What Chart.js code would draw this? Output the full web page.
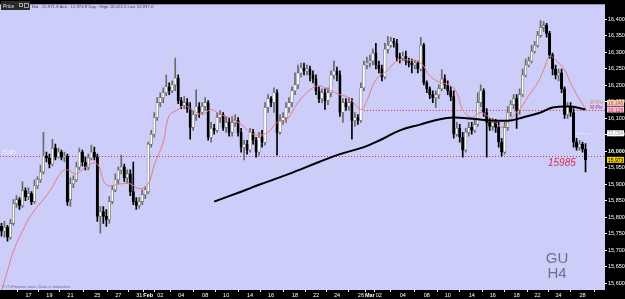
<!DOCTYPE html>
<html>
<head>
<meta charset="utf-8">
<script src="https://cdn.jsdelivr.net/npm/chart.js@4.4.1/dist/chart.umd.min.js"></script>
<style>
body { margin: 0; background: #000; }
</style>
</head>
<body>
<canvas id="chart" width="625" height="299"></canvas>
<script>
// H4 candles
const open = [15772,15757,15769,15739,15781,15841,15853,15835,15880,15862,
  15871,15847,15895,15913,15937,15985,15979,15961,16009,15982,
  15997,15982,15985,15853,15901,15913,15952,15997,15967,15952,
  15979,15997,15982,15802,15817,15802,15793,15847,15883,15913,
  15943,15952,15919,15931,15877,15847,15835,15847,15868,15877,
  16021,16051,16102,16147,16162,16177,16195,16183,16201,16222,
  16153,16138,16147,16129,16072,16111,16135,16117,16135,16147,
  16042,16069,16063,16102,16111,16072,16087,16057,16087,16093,
  16057,16012,16021,16003,16057,16033,15997,16042,16027,16132,
  16159,16147,16177,16057,16093,16102,16132,16147,16183,16201,
  16237,16252,16243,16249,16231,16219,16183,16159,16177,16153,
  16177,16231,16243,16231,16117,16147,16135,16147,16093,16102,
  16093,16192,16261,16267,16273,16297,16261,16249,16225,16309,
  16321,16333,16327,16285,16282,16288,16273,16267,16261,16267,
  16249,16321,16207,16189,16171,16162,16171,16189,16219,16201,
  16183,16165,16051,16069,16042,16003,16057,16072,16063,16081,
  16147,16183,16117,16087,16075,16087,16072,16027,15997,16072,
  16117,16141,16159,16123,16171,16231,16261,16273,16303,16321,
  16351,16375,16381,16357,16291,16249,16231,16237,16189,16111,
  16135,16117,16027,16012,16021,16006];
const high = [15781,15787,15775,15793,15853,15865,15859,15907,15889,15889,
  15877,15913,15922,15958,16057,15997,15991,16036,16021,16009,
  16003,15997,15991,15919,15925,15967,16009,16003,15982,15991,
  16018,16012,15991,15832,15832,15823,15862,15895,15931,15952,
  15988,15961,15943,15943,15967,15859,15859,15883,15892,16027,
  16063,16117,16162,16177,16192,16231,16207,16213,16282,16231,
  16162,16165,16159,16147,16123,16186,16147,16147,16162,16153,
  16087,16081,16117,16123,16117,16105,16099,16105,16111,16102,
  16069,16033,16033,16069,16066,16042,16057,16063,16147,16171,
  16165,16192,16186,16111,16117,16147,16162,16195,16237,16261,
  16267,16267,16261,16258,16243,16231,16195,16189,16189,16192,
  16243,16273,16255,16243,16159,16159,16162,16159,16117,16111,
  16207,16273,16285,16291,16309,16327,16273,16261,16327,16348,
  16345,16342,16339,16297,16300,16303,16282,16279,16276,16273,
  16345,16327,16213,16195,16183,16183,16201,16246,16231,16213,
  16195,16183,16087,16081,16057,16069,16087,16087,16093,16177,
  16201,16189,16129,16099,16099,16096,16087,16039,16087,16135,
  16153,16171,16171,16189,16249,16279,16285,16321,16333,16363,
  16396,16393,16387,16363,16297,16261,16249,16249,16195,16147,
  16147,16129,16039,16033,16027,16022.5];
const low = [15742,15739,15727,15733,15775,15829,15823,15829,15850,15853,
  15838,15841,15886,15904,15931,15967,15949,15955,15973,15979,
  15973,15967,15835,15832,15889,15907,15943,15955,15943,15943,
  15973,15973,15787,15751,15781,15772,15781,15841,15877,15901,
  15931,15907,15901,15865,15838,15823,15826,15838,15856,15871,
  16012,16042,16093,16135,16147,16168,16171,16177,16183,16144,
  16129,16129,16117,16036,16063,16093,16102,16111,16123,16033,
  16027,16051,16057,16087,16063,16057,16045,16045,16075,16045,
  15997,15973,15991,15997,16021,15982,15988,16012,16018,16117,
  16135,16117,15988,16051,16081,16087,16117,16135,16171,16189,
  16225,16231,16231,16213,16207,16171,16147,16147,16126,16141,
  16165,16219,16213,16105,16087,16123,16123,16036,16075,16081,
  16087,16183,16249,16255,16261,16249,16237,16213,16219,16297,
  16315,16315,16273,16267,16273,16261,16255,16237,16249,16237,
  16243,16201,16177,16159,16147,16132,16159,16183,16189,16171,
  16153,16039,16045,16027,15982,15997,16045,16051,16057,16075,
  16135,16105,15982,16063,16063,16057,16012,15985,15991,16063,
  16105,16129,16069,16111,16165,16225,16255,16267,16297,16315,
  16345,16363,16345,16282,16231,16219,16213,16177,16099,16099,
  16105,16012,16003,16003,15997,15937];
const close = [15757,15769,15739,15781,15841,15853,15835,15880,15862,15871,
  15847,15895,15913,15937,15985,15979,15961,16009,15982,15997,
  15982,15985,15847,15901,15913,15952,15997,15967,15952,15979,
  15997,15982,15802,15817,15802,15793,15847,15883,15913,15943,
  15952,15919,15931,15877,15847,15835,15847,15868,15883,16021,
  16051,16102,16147,16162,16177,16195,16183,16201,16222,16153,
  16138,16147,16129,16072,16111,16135,16117,16135,16147,16042,
  16069,16063,16102,16111,16072,16087,16057,16087,16093,16057,
  16012,16021,16003,16057,16033,15997,16042,16027,16132,16159,
  16147,16177,16057,16093,16102,16132,16147,16183,16201,16237,
  16252,16243,16249,16231,16219,16183,16159,16177,16153,16177,
  16231,16243,16231,16117,16147,16135,16147,16093,16102,16093,
  16192,16261,16267,16273,16297,16261,16249,16225,16309,16321,
  16333,16327,16285,16282,16288,16273,16267,16261,16267,16249,
  16321,16207,16189,16171,16162,16171,16189,16219,16201,16183,
  16165,16051,16069,16042,16003,16057,16072,16063,16081,16147,
  16183,16117,16087,16075,16087,16072,16027,15997,16072,16117,
  16141,16159,16123,16171,16231,16261,16273,16303,16321,16351,
  16375,16381,16357,16291,16249,16231,16237,16189,16111,16135,
  16117,16027,16012,16021,16006,15973.5];

// moving averages, sampled at candle indexes
const fastMaIndex = [0,2,4,7,10,16,20,22,25,29,32,35,40,43,46,49,51,54,56,59,61,64,67,70,73,76,80,83,86,89,92,95,99,103,106,110,113,116,120,122,125,129,132,136,140,143,146,150,152,154,157,160,162,165,167,170,172,174,176,179,181,183,185,188,190,193,195];
const fastMaValue = [15577,15637,15697,15757,15808,15877,15937,15943,15931,15958,15961,15898,15901,15901,15886,15901,15958,16027,16108,16126,16138,16123,16111,16126,16111,16102,16081,16057,16048,16057,16087,16093,16147,16186,16198,16183,16171,16162,16126,16153,16216,16246,16273,16276,16267,16228,16210,16198,16177,16126,16102,16117,16108,16087,16072,16096,16117,16138,16168,16207,16246,16288,16276,16246,16207,16156,16129];
const slowMaIndex = [71,80,86,96,106,113,121,127,133,140,146,151,156,163,170,174,180,184,190,195];
const slowMaValue = [15847,15877,15898,15931,15967,15991,16012,16036,16063,16081,16096,16102,16099,16093,16093,16102,16117,16132,16135,16126];

const dateText = ['17','19','21','25','27','31','Feb','02','04','08','10','14','16','18','22','24','26','Mar','02','04','08','10','14','16','18','22','24','28'];
const dateIndex = [9,16,23,32,39,46,49,53,60,68,75,83,90,98,105,112,120,123,126,134,142,149,157,164,172,179,186,194];

const slots = 202;
const supportLevel = 15985;
const pivotLevel = 16126;
const pivotFrom = 121;
const weekPivot = 16146;
const markLevel = 16054;
const lastPrice = 15973.5;
const headerText = 'Bid : 15,971.8 Ask : 15,974.8 Day : High 16,022.5 Low 15,937.0';

const labels = [];
for (let i = 0; i < slots; i++) labels.push('');
dateIndex.forEach((v, k) => { labels[v] = dateText[k]; });

const bodies = open.map((o, i) => [o, close[i]]);
const wicks = low.map((l, i) => [l, high[i]]);
const isUp = i => close[i] >= open[i];
const font = 'Liberation Sans, Arial, sans-serif';

const backdrop = {
  id: 'backdrop',
  beforeDraw(chart) {
    const c = chart.ctx, a = chart.chartArea;
    c.save();
    c.fillStyle = '#000';
    c.fillRect(0, 0, chart.width, chart.height);
    c.fillStyle = '#cccdf8';
    c.fillRect(a.left, a.top, a.right - a.left, a.bottom - a.top);
    c.restore();
  },
  beforeDatasetsDraw(chart) {
    const c = chart.ctx, a = chart.chartArea, y = chart.scales.y, xl = chart.scales.xl;
    c.save();
    c.lineWidth = 1;
    c.setLineDash([1, 2]);
    c.strokeStyle = '#c8305a';
    let py = Math.round(y.getPixelForValue(supportLevel)) + 0.5;
    c.beginPath(); c.moveTo(a.left, py); c.lineTo(a.right, py); c.stroke();
    py = Math.round(y.getPixelForValue(pivotLevel)) + 0.5;
    c.beginPath(); c.moveTo(xl.getPixelForValue(pivotFrom), py); c.lineTo(a.right, py); c.stroke();
    c.strokeStyle = '#ffffff';
    py = Math.round(y.getPixelForValue(markLevel)) + 0.5;
    c.beginPath(); c.moveTo(xl.getPixelForValue(191), py); c.lineTo(xl.getPixelForValue(197), py); c.stroke();
    c.restore();
  },
  afterDraw(chart) {
    const c = chart.ctx, a = chart.chartArea, y = chart.scales.y;
    c.save();
    // header
    c.fillStyle = '#2b2b2b';
    c.fillRect(1, 1, 29, 9);
    c.fillStyle = '#e0e0e0';
    c.font = '5px ' + font;
    c.fillText('Price', 3, 7.5);
    c.strokeStyle = '#c0c0c0';
    c.lineWidth = 0.8;
    c.strokeRect(19.5, 3.5, 3, 3);
    c.strokeRect(24.5, 3.5, 4, 4);
    c.fillStyle = '#3c3c50';
    c.font = '4.3px ' + font;
    c.fillText(headerText, 32, 7.5);
    // footer note
    c.fillStyle = '#6a6a90';
    c.font = 'italic 4.3px ' + font;
    c.fillText('\u00a9 IT-Finance.com. Data is indicative', 2, 288);
    // symbol / period
    c.fillStyle = '#70708e';
    c.font = '15px ' + font;
    c.textAlign = 'center';
    c.fillText('GU', 557, 263);
    c.fillText('H4', 557, 278);
    // level text
    c.textAlign = 'left';
    c.fillStyle = '#d8304a';
    c.font = 'italic 10px ' + font;
    c.fillText('15985', 548, y.getPixelForValue(supportLevel) + 10);
    c.fillStyle = '#f4f4ff';
    c.font = '4.5px ' + font;
    c.fillText('15,985', 2, y.getPixelForValue(supportLevel) - 2);
    c.font = '5px ' + font;
    c.fillStyle = '#e08850';
    c.fillText('W Piv', 590, y.getPixelForValue(weekPivot) + 1);
    c.fillStyle = '#c8305a';
    c.fillText('M Piv', 590, y.getPixelForValue(pivotLevel) - 1);
    // axis boxes
    const box = (v, bg, fg, txt) => {
      const py = y.getPixelForValue(v);
      c.fillStyle = bg;
      c.fillRect(a.right + 2, py - 3, 17, 6);
      c.fillStyle = fg;
      c.font = '5px ' + font;
      c.fillText(txt, a.right + 3, py + 2);
    };
    box(weekPivot, '#f4c8b8', '#c06040', '16,146');
    box(pivotLevel, '#f0c0d0', '#c8305a', '16,126');
    box(markLevel, '#ffffff', '#a0a0a0', '16,054');
    box(lastPrice, '#f0d000', '#000000', '15,973.5');
    c.restore();
  }
};

new Chart(document.getElementById('chart'), {
  type: 'bar',
  data: {
    labels: labels,
    datasets: [
      {
        type: 'line',
        data: slowMaIndex.map((v, k) => ({ x: v, y: slowMaValue[k] })),
        xAxisID: 'xl',
        borderColor: '#000',
        borderWidth: 2,
        pointRadius: 0,
        tension: 0.4,
        order: 0
      },
      {
        type: 'line',
        data: fastMaIndex.map((v, k) => ({ x: v, y: fastMaValue[k] })),
        xAxisID: 'xl',
        borderColor: '#e87c7c',
        borderWidth: 1,
        pointRadius: 0,
        tension: 0.4,
        order: 1
      },
      {
        data: bodies,
        grouped: false,
        barThickness: 2.4,
        borderSkipped: false,
        borderWidth: 0.6,
        backgroundColor: ctx => isUp(ctx.dataIndex) ? '#ffffff' : '#000000',
        borderColor: ctx => isUp(ctx.dataIndex) ? '#606060' : '#000000',
        order: 2
      },
      {
        data: wicks,
        grouped: false,
        barThickness: 1,
        backgroundColor: ctx => isUp(ctx.dataIndex) ? '#6a6a6a' : '#000000',
        order: 3
      }
    ]
  },
  options: {
    responsive: false,
    animation: false,
    layout: { padding: 0 },
    plugins: { legend: { display: false }, tooltip: { enabled: false } },
    scales: {
      x: {
        type: 'category',
        afterFit(s) { s.height = 9; },
        afterBuildTicks(s) { s.ticks = dateIndex.map(v => ({ value: v })); },
        grid: { drawOnChartArea: false, color: '#fff', tickLength: 2 },
        border: { display: false },
        ticks: {
          autoSkip: false,
          maxRotation: 0,
          padding: 0,
          color: '#fff',
          callback: v => labels[v],
          font: ctx => ({ size: 5.5, family: font, weight: ctx.tick && (labels[ctx.tick.value] === 'Feb' || labels[ctx.tick.value] === 'Mar') ? 'bold' : 'normal' })
        }
      },
      xl: {
        type: 'linear',
        display: false,
        offset: false,
        min: -0.5,
        max: slots - 0.5
      },
      y: {
        position: 'right',
        min: 15579,
        max: 16445,
        afterFit(s) { s.width = 20; },
        grid: { drawOnChartArea: false, color: '#fff', tickLength: 2 },
        border: { display: false },
        ticks: {
          stepSize: 50,
          includeBounds: false,
          padding: 1,
          color: '#fff',
          callback: v => v.toLocaleString('en-US'),
          font: ctx => ({ size: 5.5, family: font, weight: ctx.tick && ctx.tick.value === 16000 ? 'bold' : 'normal' })
        }
      }
    }
  },
  plugins: [backdrop]
});
</script>
</body>
</html>
